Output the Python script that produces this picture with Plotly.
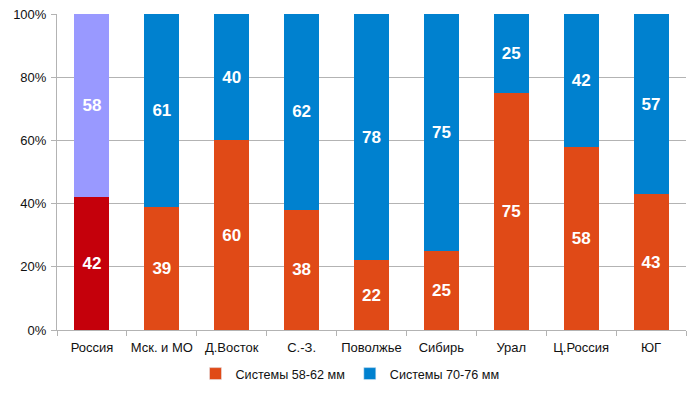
import plotly.graph_objects as go

categories = ["Россия", "Мск. и МО", "Д.Восток", "С.-З.", "Поволжье", "Сибирь", "Урал", "Ц.Россия", "ЮГ"]
sys_58_62 = [42, 39, 60, 38, 22, 25, 75, 58, 43]
sys_70_76 = [58, 61, 40, 62, 78, 75, 25, 42, 57]
series_names = ["Системы 58-62 мм", "Системы 70-76 мм"]
y_ticks = [0, 20, 40, 60, 80, 100]

orange = "#E04A17"
blue = "#0081CF"
russia_low = "#C5000B"
russia_high = "#9999FF"

low_colors = [russia_low] + [orange] * (len(categories) - 1)
high_colors = [russia_high] + [blue] * (len(categories) - 1)

fig = go.Figure()
text_font = dict(family="Liberation Sans, Arial, sans-serif", size=17, color="white")
for name, vals, cols in [(series_names[0], sys_58_62, low_colors), (series_names[1], sys_70_76, high_colors)]:
    fig.add_trace(go.Bar(
        x=categories, y=vals, name=name,
        marker=dict(color=cols, line=dict(width=0)),
        text=[f"<b>{v}</b>" for v in vals],
        textposition="inside", insidetextanchor="middle",
        textfont=text_font, textangle=0,
        width=0.5, showlegend=False,
    ))
# legend-only entries
for name, col in [(series_names[0], orange), (series_names[1], blue)]:
    fig.add_trace(go.Bar(x=[None], y=[None], name=name, marker=dict(color=col), showlegend=True))

fig.update_layout(
    barmode="stack",
    width=700, height=394,
    margin=dict(l=57, r=14, t=14, b=64, autoexpand=False),
    paper_bgcolor="white", plot_bgcolor="white",
    font=dict(family="Liberation Sans, Arial, sans-serif", size=13, color="#111111"),
    uniformtext=dict(minsize=10, mode="show"),
    legend=dict(orientation="h", xref="container", x=0.5, xanchor="center",
                y=-0.139, yanchor="middle",
                font=dict(size=12.6), itemwidth=30, traceorder="normal"),
    xaxis=dict(showline=True, linecolor="#b3b3b3", linewidth=1, tickangle=0, automargin=False,
               ticks="outside", tickson="boundaries", ticklen=5, tickcolor="#b3b3b3",
               ticklabelstandoff=5,
               showgrid=False, range=[-0.5, len(categories) - 0.5]),
    yaxis=dict(range=[0, 100], tickvals=y_ticks, ticktext=[f"{t}%" for t in y_ticks],
               automargin=False, ticklabelstandoff=2,
               showgrid=True, gridcolor="#b3b3b3", gridwidth=1,
               showline=True, linecolor="#b3b3b3", ticks="outside", ticklen=5,
               tickcolor="#b3b3b3", zeroline=False),
)

fig.write_html("out.html", config={"displayModeBar": False},
               post_script="document.body.style.margin='0';")
